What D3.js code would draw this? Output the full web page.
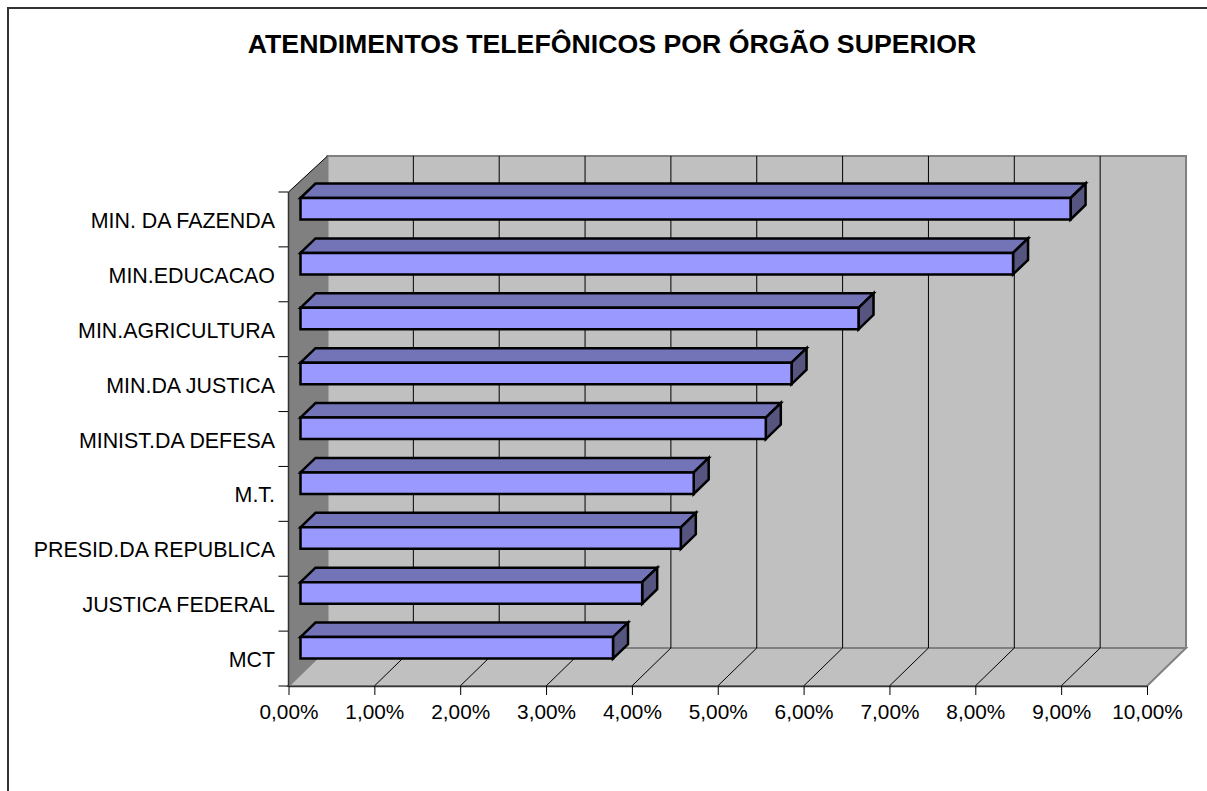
<html>
<head>
<meta charset="utf-8">
<title></title>
<script src="https://d3js.org/d3.v7.min.js"></script>
<style>
	html, body { margin: 0; padding: 0; background: #fff; overflow: hidden; }
	svg { display: block; }
	text { font-family: "Liberation Sans", Arial, sans-serif; fill: #000; }
</style>
</head>
<body>
<div id="chart"></div>
<script>
	//Data
	var categories = ["MIN. DA FAZENDA","MIN.EDUCACAO","MIN.AGRICULTURA","MIN.DA JUSTICA","MINIST.DA DEFESA","M.T.","PRESID.DA REPUBLICA","JUSTICA FEDERAL","MCT"];
	var shares = [8.97,8.30,6.50,5.72,5.42,4.58,4.43,3.98,3.64];
	var xTicks = [0,1,2,3,4,5,6,7,8,9,10];
	var title = "ATENDIMENTOS TELEFÔNICOS POR ÓRGÃO SUPERIOR";

	var canvas = d3.select("#chart").append("svg").attr("width",1207).attr("height",791);

	//Outer frame, cut off on the right and at the bottom
	canvas.append("path").attr("d","M8,791V8H1207").attr("fill","none").attr("stroke","#333").attr("stroke-width",2);

	canvas.append("text").text(title).attr("x",612).attr("y",53)
		.attr("text-anchor","middle").style("font-size","26.7px").style("font-weight","bold");

	//Front floor edge scales
	var x = d3.scaleLinear().domain([0,10]).range([288.5,1147]);
	var y = d3.scaleBand().domain(categories).range([192,686]);
	var fmt = function(d){ return d3.format(".2f")(d).replace(".",",") + "%"; };

	//Depth of the box, and where the bars sit inside it
	var depthX = 39, depthY = -38;
	var barOffX = 12, barTopOff = 6, barH = 21.5, barDX = 15, barDY = -14.5;

	var x0 = x(0), x1 = x(10), yTop = y.range()[0], yBot = y.range()[1];
	function poly(pts){ return "M" + pts.map(function(p){ return p.join(","); }).join("L") + "Z"; }

	//Back wall
	canvas.append("path")
		.attr("d",poly([[x0+depthX,yTop-36],[x1+depthX,yTop-36],[x1+depthX,yBot+depthY],[x0+depthX,yBot+depthY]]))
		.attr("fill","#c0c0c0").attr("stroke","#808080").attr("stroke-width",2);

	//Floor
	canvas.append("path")
		.attr("d",poly([[x0,yBot],[x1,yBot],[x1+depthX,yBot+depthY],[x0+depthX,yBot+depthY]]))
		.attr("fill","#c0c0c0").attr("stroke","#808080").attr("stroke-width",2);

	//Side wall
	canvas.append("path")
		.attr("d",poly([[x0,yTop],[x0+depthX,yTop-36],[x0+depthX,yBot+depthY],[x0,yBot]]))
		.attr("fill","#808080");
	canvas.append("line").attr("x1",x0).attr("y1",yTop).attr("x2",x0+depthX).attr("y2",yTop-36)
		.attr("stroke","#000").attr("stroke-width",1);

	//Gridlines, back wall and floor
	canvas.selectAll(".grid").data(xTicks.slice(1,10)).enter().append("path").attr("class","grid")
		.attr("d",function(d){ return "M"+(x(d)+depthX)+","+(yTop-36)+"V"+(yBot+depthY)+"L"+x(d)+","+yBot; })
		.attr("fill","none").attr("stroke","#000").attr("stroke-width",1);

	//Axes
	var axisBottom = canvas.append("g").attr("transform","translate(0,"+yBot+")")
		.call(d3.axisBottom(x).tickValues(xTicks).tickFormat(fmt).tickSize(9).tickSizeOuter(0));
	axisBottom.selectAll("text").attr("dy","0").attr("y",33).style("font-size","20.8px").attr("font-family",null);
	axisBottom.select(".domain").attr("stroke","#333").attr("stroke-width",1.5);

	var yTicks = categories.map(function(c){ return y(c); }).concat([yBot]);
	canvas.selectAll(".ytick").data(yTicks).enter().append("line").attr("class","ytick")
		.attr("x1",x0-10).attr("x2",x0).attr("y1",function(d){ return d; }).attr("y2",function(d){ return d; })
		.attr("stroke","#000").attr("stroke-width",1);
	canvas.append("line").attr("x1",x0).attr("x2",x0).attr("y1",yTop).attr("y2",yBot).attr("stroke","#333").attr("stroke-width",1.5);

	canvas.selectAll(".cat").data(categories).enter().append("text").attr("class","cat")
		.text(function(d){ return d; })
		.attr("x",275).attr("y",function(d){ return y(d)+y.bandwidth()/2+8.5; })
		.attr("text-anchor","end").style("font-size","21.4px");

	//Bars: top, side, then front
	var barX = function(v){ return x(v) - x(0) + x0 + barOffX; };
	var bars = canvas.selectAll(".bar").data(categories).enter().append("g").attr("class","bar");
	var style = function(sel,fill){ sel.attr("fill",fill).attr("stroke","#000").attr("stroke-width",2.5).attr("stroke-linejoin","miter"); };

	bars.append("path").call(style,"#7373b8").attr("d",function(d,i){
		var t = y(d)+barTopOff, l = barX(0), r = barX(shares[i]);
		return poly([[l,t],[l+barDX,t+barDY],[r+barDX,t+barDY],[r,t]]);
	});
	bars.append("path").call(style,"#555580").attr("d",function(d,i){
		var t = y(d)+barTopOff, r = barX(shares[i]);
		return poly([[r,t],[r+barDX,t+barDY],[r+barDX,t+barDY+barH],[r,t+barH]]);
	});
	bars.append("path").call(style,"#9999ff").attr("d",function(d,i){
		var t = y(d)+barTopOff, l = barX(0), r = barX(shares[i]);
		return poly([[l,t],[r,t],[r,t+barH],[l,t+barH]]);
	});
</script>
</body>
</html>
